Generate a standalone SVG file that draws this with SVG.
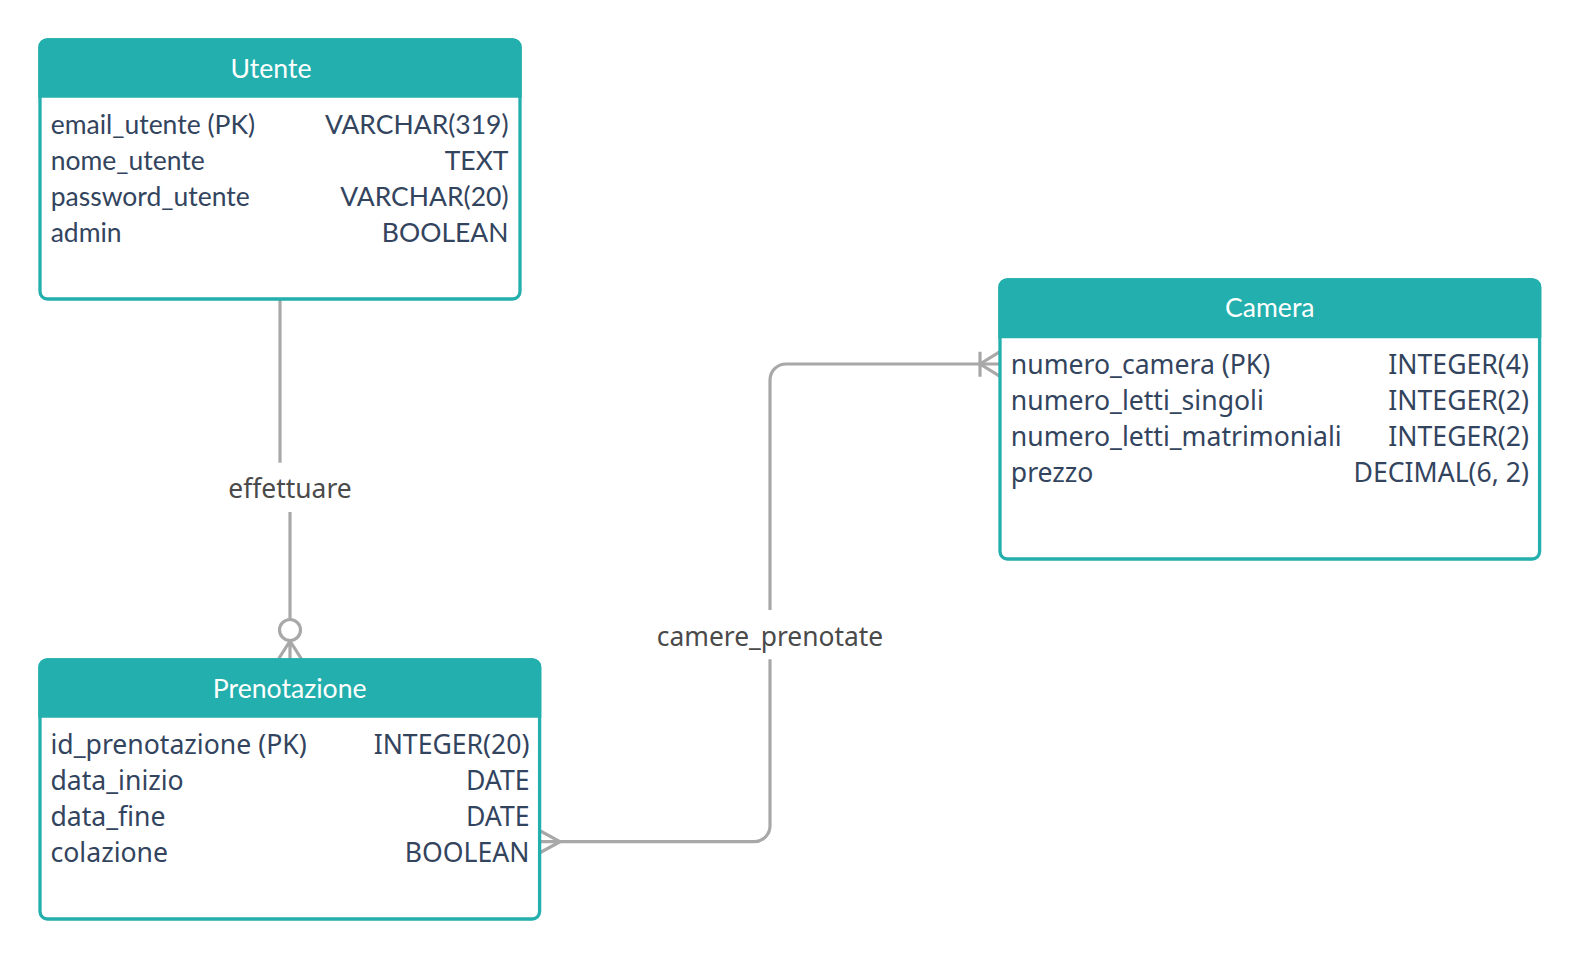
<svg xmlns="http://www.w3.org/2000/svg" width="1581" height="960" viewBox="0 0 1581 960">
<style>
.box{fill:#ffffff;stroke:#23afad;stroke-width:3.3}
.hdr{fill:#23afad}
.title{font-family:Lato,"Noto Sans",sans-serif;font-size:26.6px;fill:#ffffff;text-anchor:middle}
.lato{font-family:Lato,"Liberation Sans",sans-serif;font-size:26.5px;fill:#33445e}
.noto{font-family:"Noto Sans","Open Sans",sans-serif;font-size:26.6px;fill:#33445e}
.r{text-anchor:end}
.lbl{font-family:"Noto Sans","Open Sans",sans-serif;font-size:26.4px;fill:#4a4a4a;text-anchor:middle}
.ln{fill:none;stroke:#a8a8a8;stroke-width:3.2}
</style>
<rect width="1581" height="960" fill="#ffffff"/>
<g id="connectors">
  <g id="effettuare">
    <path class="ln" d="M280 300 V462.7"/>
    <path class="ln" d="M290 512 V619"/>
    <circle class="ln" cx="290" cy="630" r="10.5"/>
    <path class="ln" d="M290 641 V659 M290 641 L278.5 659 M290 641 L301.5 659"/>
    <text class="lbl" x="290" y="497.8">effettuare</text>
  </g>
  <g id="camere_prenotate">
    <path class="ln" d="M541 841.7 H754 A16 16 0 0 0 770 825.7 V659.3"/>
    <path class="ln" d="M770 610 V380 A16 16 0 0 1 786 364 H999"/>
    <path class="ln" d="M538.5 830 L560 841.7 L538.5 853.5"/>
    <path class="ln" d="M980 351.7 V376.7 M980 364 L1000 351.7 M980 364 L1000 376.3"/>
    <text class="lbl" x="770" y="645.5">camere_prenotate</text>
  </g>
</g>
<g id="utente">
  <rect class="box" x="40" y="40" width="480" height="259" rx="7.5"/>
  <path class="hdr" d="M38.3 97.7 V47 A8.7 8.7 0 0 1 47 38.3 H513 A8.7 8.7 0 0 1 521.7 47 V97.7 Z"/>
  <text class="title" x="271" y="78">Utente</text>
  <text class="lato" x="50.7" y="134">email_utente (PK)</text>
  <text class="lato r" x="508.5" y="134">VARCHAR(319)</text>
  <text class="lato" x="50.7" y="170">nome_utente</text>
  <text class="lato r" x="508.5" y="170">TEXT</text>
  <text class="lato" x="50.7" y="206">password_utente</text>
  <text class="lato r" x="508.5" y="206">VARCHAR(20)</text>
  <text class="lato" x="50.7" y="242">admin</text>
  <text class="lato r" x="508.5" y="242">BOOLEAN</text>
</g>
<g id="prenotazione">
  <rect class="box" x="40" y="660" width="499.6" height="259" rx="7.5"/>
  <path class="hdr" d="M38.3 717.7 V667 A8.7 8.7 0 0 1 47 658.3 H532.6 A8.7 8.7 0 0 1 541.3 667 V717.7 Z"/>
  <text class="title" x="289.7" y="698">Prenotazione</text>
  <text class="noto" x="50.5" y="754">id_prenotazione (PK)</text>
  <text class="noto r" x="529.5" y="754">INTEGER(20)</text>
  <text class="noto" x="50.5" y="790">data_inizio</text>
  <text class="noto r" x="529.5" y="790">DATE</text>
  <text class="noto" x="50.5" y="826">data_fine</text>
  <text class="noto r" x="529.5" y="826">DATE</text>
  <text class="noto" x="50.5" y="862">colazione</text>
  <text class="noto r" x="529.5" y="862">BOOLEAN</text>
</g>
<g id="camera">
  <rect class="box" x="1000" y="280" width="539.6" height="279" rx="7.5"/>
  <path class="hdr" d="M998.3 338.3 V287 A8.7 8.7 0 0 1 1007 278.3 H1532.6 A8.7 8.7 0 0 1 1541.3 287 V338.3 Z"/>
  <text class="title" x="1269.8" y="316.5">Camera</text>
  <text class="noto" x="1010.8" y="373.5">numero_camera (PK)</text>
  <text class="noto r" x="1529" y="373.5">INTEGER(4)</text>
  <text class="noto" x="1010.8" y="409.5">numero_letti_singoli</text>
  <text class="noto r" x="1529" y="409.5">INTEGER(2)</text>
  <text class="noto" x="1010.8" y="445.5">numero_letti_matrimoniali</text>
  <text class="noto r" x="1529" y="445.5">INTEGER(2)</text>
  <text class="noto" x="1010.8" y="481.5">prezzo</text>
  <text class="noto r" x="1529" y="481.5">DECIMAL(6, 2)</text>
</g>
</svg>
